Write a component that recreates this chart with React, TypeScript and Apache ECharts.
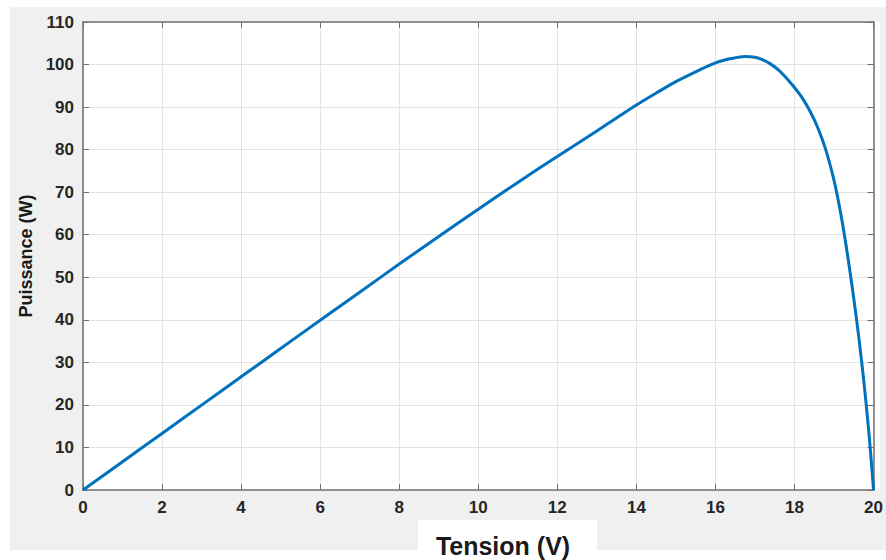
import React, { useEffect, useRef } from "react";
import * as echarts from "echarts";

const voltage = [0, 1, 2, 3, 4, 5, 6, 7, 8, 9, 10, 11, 12, 13, 14, 14.5, 15, 15.5, 16, 16.4, 16.75, 17, 17.2, 17.4, 17.6, 17.8, 18.0, 18.2, 18.4, 18.6, 18.8, 19.0, 19.1, 19.2, 19.3, 19.4, 19.5, 19.6, 19.7, 19.8, 19.9, 20.0];
const power = [0, 6.65, 13.3, 19.95, 26.6, 33.25, 39.9, 46.5, 53.1, 59.6, 66.0, 72.3, 78.4, 84.4, 90.5, 93.3, 96.0, 98.3, 100.4, 101.4, 101.9, 101.7, 101.1, 100.1, 98.7, 96.8, 94.6, 92.1, 88.9, 84.9, 79.7, 72.8, 68.4, 63.4, 57.8, 51.6, 45.0, 37.9, 30.1, 21.4, 11.6, 0];

const xLabel = "Tension (V)";
const yLabel = "Puissance (W)";

export default function App() {
  const ref = useRef<HTMLDivElement>(null);
  useEffect(() => {
    if (!ref.current) return;
    const chart = echarts.init(ref.current, null, { renderer: "svg" });
    const font = "'Liberation Sans', Arial, sans-serif";
    const boxColor = "#707070";
    const labelStyle = { color: "#262626", fontWeight: "bold" as const, fontSize: 17, fontFamily: font };
    const gridLine = { show: true, lineStyle: { color: "#e3e3e3", width: 1 } };
    chart.setOption({
      animation: false,
      backgroundColor: "#ffffff",
      graphic: [
        { type: "rect", z: -10, silent: true, shape: { x: 10, y: 7, width: 876, height: 543 }, style: { fill: "#f0f0f0" } },
        { type: "rect", z: -5, silent: true, shape: { x: 83, y: 22, width: 797, height: 468 }, style: { fill: "#ffffff" } },
        { type: "rect", z: 10, silent: true, shape: { x: 418, y: 520, width: 179, height: 40 }, style: { fill: "#ffffff" } },
        { type: "text", z: 11, silent: true, x: 503, y: 546, style: { text: xLabel, fill: "#1a1a1a", font: `bold 25px ${font}`, textAlign: "center", textVerticalAlign: "middle" } },
      ],
      grid: { left: 83, top: 22, width: 797, height: 468, containLabel: false },
      xAxis: [
        {
          type: "value", min: 0, max: 20, interval: 2, position: "bottom",
          axisLine: { show: true, onZero: false, lineStyle: { color: boxColor, width: 1.5 } },
          axisTick: { show: true, inside: true, length: 6, lineStyle: { color: boxColor } },
          axisLabel: { ...labelStyle, margin: 9, showMaxLabel: true },
          splitLine: gridLine,
        },
        {
          type: "value", min: 0, max: 20, interval: 2, position: "top",
          axisLine: { show: true, onZero: false, lineStyle: { color: boxColor, width: 1.5 } },
          axisTick: { show: true, inside: true, length: 6, lineStyle: { color: boxColor } },
          axisLabel: { show: false },
          splitLine: { show: false },
        },
      ],
      yAxis: [
        {
          type: "value", min: 0, max: 110, interval: 10, position: "left",
          name: yLabel, nameLocation: "middle", nameGap: 43, nameRotate: 90,
          nameTextStyle: { color: "#1a1a1a", fontWeight: "bold", fontSize: 18, fontFamily: font },
          axisLine: { show: true, onZero: false, lineStyle: { color: boxColor, width: 1.5 } },
          axisTick: { show: true, inside: true, length: 6, lineStyle: { color: boxColor } },
          axisLabel: { ...labelStyle, margin: 9 },
          splitLine: gridLine,
        },
        {
          type: "value", min: 0, max: 110, interval: 10, position: "right",
          axisLine: { show: true, onZero: false, lineStyle: { color: boxColor, width: 1.5 } },
          axisTick: { show: true, inside: true, length: 6, lineStyle: { color: boxColor } },
          axisLabel: { show: false },
          splitLine: { show: false },
        },
      ],
      series: [
        {
          type: "line",
          data: voltage.map((v, i) => [v, power[i]]),
          showSymbol: false,
          smooth: 0.3,
          lineStyle: { color: "#0072BD", width: 3 },
          itemStyle: { color: "#0072BD" },
        },
      ],
    });
    return () => chart.dispose();
  }, []);
  return <div ref={ref} style={{ position: "fixed", left: 0, top: 0, width: 886, height: 560 }} />;
}
